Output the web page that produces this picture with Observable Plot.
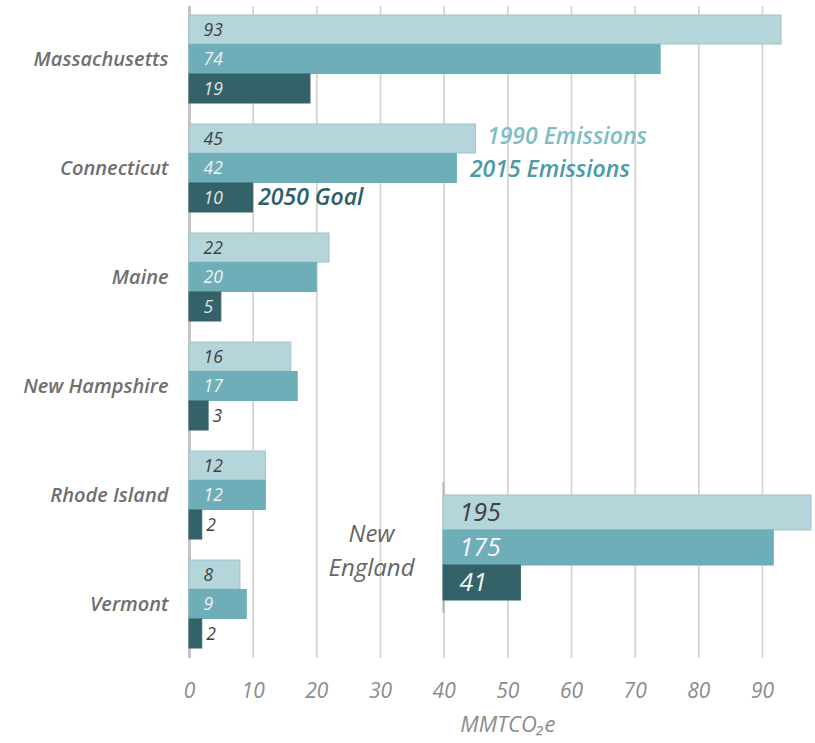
<!DOCTYPE html>
<html><head><meta charset="utf-8">
<script src="https://cdn.jsdelivr.net/npm/d3@7"></script>
<script src="https://cdn.jsdelivr.net/npm/@observablehq/plot@0.6"></script>
<style>
body{margin:0;background:#fff;}
#wrap{position:relative;width:815px;height:743px;}
#wrap svg{position:absolute;left:0;top:0;}
</style></head><body><div id="wrap"></div>
<script>
// ---- data ----
const states = ["Massachusetts","Connecticut","Maine","New Hampshire","Rhode Island","Vermont"];
const series = ["1990 Emissions","2015 Emissions","2050 Goal"];
const emissions1990 = [93,45,22,16,12,8];
const emissions2015 = [74,42,20,17,12,9];
const goal2050 = [19,10,5,3,2,2];
const regionName = "New\nEngland";
const regionValues = [195,175,41];
const xTicks = [0,10,20,30,40,50,60,70,80,90];
const axisTitle = "MMTCO₂e";

// ---- styles ----
const colors = ["#b4d6da","#6daeb8","#336369"];
const strokes = ["#a2c3c7","#6daeb8","#336369"];
const inTextColors = ["#404040","#f2f2f2","#e4e4e4"];
const legendColors = ["#7fbcc5","#4b9aa6","#2e5f66"];
const legendDx = [11,13,5];
const legendDyShift = [-2,1,0];
const FONT = "'Open Sans', Lato, sans-serif";

const W = 815, H = 743, mt = 6, mb = 85, ml = 189, mr = 53;
const pi = 0.19, po = 0.08;
const step = (H - mt - mb) / (states.length - pi + 2 * po);
const bw = step * (1 - pi);
const sub = bw / 3;

const vals = [emissions1990, emissions2015, goal2050];

const marks = [
  Plot.ruleX(xTicks, {stroke: "#d2d2d2", strokeWidth: 1.6}),
  Plot.ruleX([0], {stroke: "#c4c4c4", strokeWidth: 3})
];
vals.forEach((arr, k) => {
  marks.push(Plot.barX(states, {
    x: (d, i) => arr[i], y: d => d, fill: colors[k], stroke: strokes[k], strokeWidth: 1,
    insetTop: k * sub, insetBottom: (2 - k) * sub
  }));
});
vals.forEach((arr, k) => {
  const inside = states.filter((d, i) => arr[i] >= 5);
  const outside = states.filter((d, i) => arr[i] < 5);
  marks.push(Plot.text(inside, {
    x: 0, y: d => d, dy: (k - 1) * sub, dx: 14, textAnchor: "start",
    text: d => String(arr[states.indexOf(d)]), fill: inTextColors[k],
    fontSize: 17.5, fontStyle: "italic", fontFamily: FONT
  }));
  marks.push(Plot.text(outside, {
    x: d => arr[states.indexOf(d)], y: d => d, dy: (k - 1) * sub, dx: 4, textAnchor: "start",
    text: d => String(arr[states.indexOf(d)]), fill: "#404040",
    fontSize: 17.5, fontStyle: "italic", fontFamily: FONT
  }));
});
// direct legend labels next to Connecticut bars
series.forEach((s, k) => {
  marks.push(Plot.text([s], {
    x: () => vals[k][1], y: () => states[1], dy: (k - 1) * sub + legendDyShift[k], dx: legendDx[k],
    textAnchor: "start", text: d => d, fill: legendColors[k],
    fontSize: 23, fontWeight: 600, fontStyle: "italic", fontFamily: FONT
  }));
});
marks.push(Plot.axisY({tickSize: 0, tickPadding: 21, label: null, fontSize: 20,
  fontStyle: "italic", fontWeight: 600, fill: "#6f6f6f", fontFamily: FONT}));
marks.push(Plot.axisX({ticks: xTicks, tickSize: 0, tickPadding: 25, label: null, fontSize: 21,
  fontStyle: "italic", fill: "#8c8c8c", fontFamily: FONT}));
marks.push(Plot.text([axisTitle], {x: () => 50, frameAnchor: "bottom", dy: 73, text: d => d,
  fontSize: 22, fontStyle: "italic", fill: "#8c8c8c", fontFamily: FONT}));

const main = Plot.plot({
  width: W, height: H, marginTop: mt, marginBottom: mb, marginLeft: ml, marginRight: mr,
  style: {background: "transparent", overflow: "visible"},
  x: {domain: [0, 90], axis: null},
  y: {type: "band", domain: states, paddingInner: pi, paddingOuter: po, axis: null},
  marks
});

// ---- New England inset ----
const inset = Plot.plot({
  width: W, height: 613, marginTop: 482, marginBottom: 0, marginLeft: 443, marginRight: 4,
  style: {background: "transparent", overflow: "visible"},
  x: {domain: [0, 195], axis: null},
  y: {type: "band", domain: series, paddingInner: 0, paddingOuter: 0.32, axis: null},
  marks: [
    Plot.ruleX([0], {stroke: "#b4b4b4", strokeWidth: 2}),
    Plot.barX(regionValues, {x: d => d, y: (d, i) => series[i], fill: (d, i) => colors[i],
      stroke: (d, i) => strokes[i], strokeWidth: 1}),
    Plot.text(regionValues, {x: 0, y: (d, i) => series[i], dx: 16, textAnchor: "start",
      text: d => String(d), fill: (d, i) => i === 0 ? "#404040" : "#f6f6f6", fontSize: 25,
      fontStyle: "italic", fontFamily: FONT}),
    Plot.text([regionName], {frameAnchor: "left", dx: -72, textAnchor: "middle", text: d => d,
      lineHeight: 1.4, fontSize: 24, fontStyle: "italic", fill: "#666666", fontFamily: FONT})
  ]
});
inset.style.pointerEvents = "none";
const wrap = document.getElementById("wrap");
wrap.appendChild(main);
wrap.appendChild(inset);
</script></body></html>
